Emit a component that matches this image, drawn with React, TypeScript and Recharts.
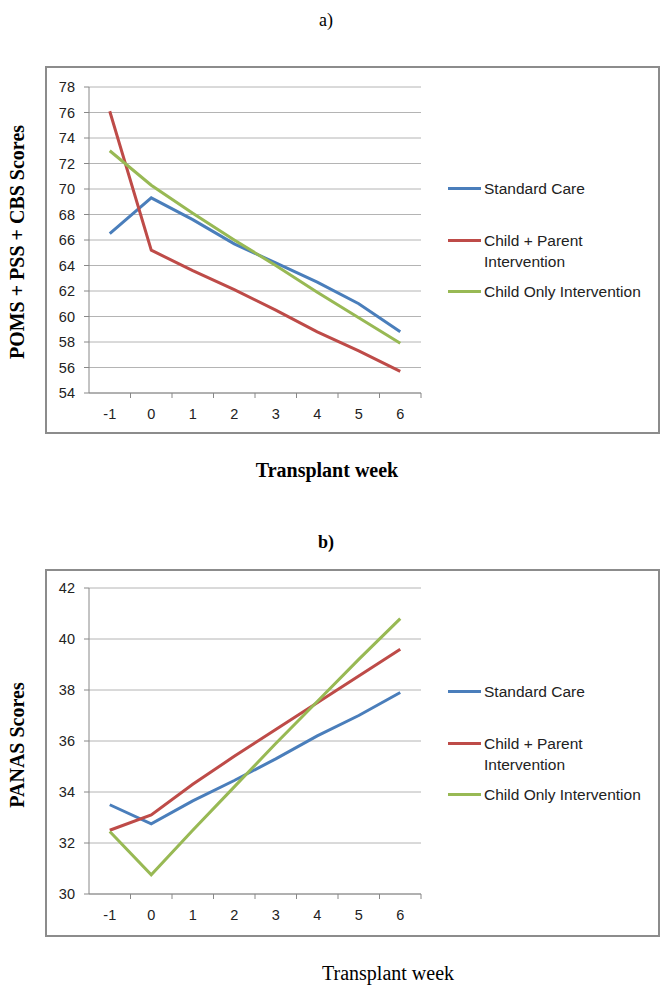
import React from "react";
import { LineChart, Line, XAxis, YAxis, CartesianGrid } from "recharts";

// transplant weeks (categories)
const weeks = ["-1", "0", "1", "2", "3", "4", "5", "6"];

// a) POMS + PSS + CBS scores
const standardCareA = [66.5, 69.3, 67.6, 65.7, 64.2, 62.7, 61.0, 58.8];
const childParentA = [76.1, 65.2, 63.6, 62.1, 60.5, 58.8, 57.3, 55.7];
const childOnlyA = [73.0, 70.3, 68.1, 66.0, 64.0, 61.9, 59.9, 57.9];
const ticksA = [54, 56, 58, 60, 62, 64, 66, 68, 70, 72, 74, 76, 78];

// b) PANAS scores
const standardCareB = [33.5, 32.75, 33.65, 34.45, 35.3, 36.2, 37.0, 37.9];
const childParentB = [32.5, 33.1, 34.3, 35.4, 36.45, 37.5, 38.55, 39.6];
const childOnlyB = [32.45, 30.75, 32.5, 34.2, 35.9, 37.55, 39.2, 40.8];
const ticksB = [30, 32, 34, 36, 38, 40, 42];

const seriesNames = ["Standard Care", "Child + Parent Intervention", "Child Only Intervention"];
const seriesColors = ["#4a7ebb", "#be4b48", "#98b954"];

const tickFont = "'Liberation Sans', Arial, sans-serif";
const serif = "'Liberation Serif', 'Times New Roman', serif";

const buildRows = (s1: number[], s2: number[], s3: number[]) =>
  weeks.map((w, i) => ({ week: w, s0: s1[i], s1: s2[i], s2: s3[i] }));

const dataA = buildRows(standardCareA, childParentA, childOnlyA);
const dataB = buildRows(standardCareB, childParentB, childOnlyB);

// Excel-style category ticks: label centred, tick marks on the band boundaries
const WeekTick = (props: any) => {
  const { x, y, payload, index, visibleTicksCount } = props;
  const off = payload.offset || 0;
  const last = index === visibleTicksCount - 1;
  return (
    <g>
      {index > 0 && <line x1={x - off} x2={x - off} y1={y} y2={y + 5} stroke="#888" />}
      {last && <line x1={x + off} x2={x + off} y1={y} y2={y + 5} stroke="#888" />}
      <text x={x} y={y + 21} textAnchor="middle" dominantBaseline="central" fill="#222" fontSize={14.5} fontFamily={tickFont}>
        {payload.value}
      </text>
    </g>
  );
};

const Legend = () => {
  const tops = [112, 164, 215];
  return (
    <>
      {seriesNames.map((name, i) => (
        <div key={name} style={{ position: "absolute", left: 403, top: tops[i], display: "flex", alignItems: "flex-start" }}>
          <div style={{ width: 33, height: 3, background: seriesColors[i], marginTop: 9, marginRight: 3 }} />
          <div style={{ width: 172, fontFamily: tickFont, fontSize: 15.5, lineHeight: "21px", color: "#222" }}>{name}</div>
        </div>
      ))}
    </>
  );
};

interface PanelProps {
  top: number;
  data: any[];
  ticks: number[];
  marginTop: number;
  xHeight: number;
}

const Panel: React.FC<PanelProps> = ({ top, data, ticks, marginTop, xHeight }) => (
  <div style={{ position: "absolute", left: 45, top, width: 615, height: 368 }}>
    <LineChart width={615} height={368} data={data} margin={{ top: marginTop, right: 239, bottom: 0, left: 0 }}>
      <CartesianGrid vertical={false} stroke="#b4b4b4" />
      <XAxis
        dataKey="week"
        scale="band"
        height={xHeight}
        stroke="#888"
        tickLine={false}
        tickSize={0}
        tickMargin={0}
        tick={<WeekTick />}
        interval={0}
      />
      <YAxis
        width={44}
        domain={[ticks[0], ticks[ticks.length - 1]]}
        ticks={ticks}
        interval={0}
        stroke="#888"
        tickSize={5}
        tickMargin={9}
        tick={{ fill: "#222", fontSize: 14.5, fontFamily: tickFont }}
      />
      {seriesColors.map((c, i) => (
        <Line
          key={i}
          dataKey={"s" + i}
          type="linear"
          stroke={c}
          strokeWidth={3}
          dot={false}
          isAnimationActive={false}
        />
      ))}
    </LineChart>
    <Legend />
    <div style={{ position: "absolute", inset: 0, border: "2px solid #8c8c8c", pointerEvents: "none" }} />
  </div>
);

const Text = ({ x, y, children, size = 20, bold = false, rotate = false }: any) => (
  <div
    style={{
      position: "absolute",
      left: x,
      top: y,
      transform: `translate(-50%, -50%)${rotate ? " rotate(-90deg)" : ""}`,
      whiteSpace: "nowrap",
      fontFamily: serif,
      fontSize: size,
      fontWeight: bold ? "bold" : "normal",
      color: "#000",
    }}
  >
    {children}
  </div>
);

export default function App() {
  return (
    <div style={{ position: "absolute", left: 0, top: 0, width: 667, height: 993, background: "#fff" }}>
      <Text x={326} y={20} size={18}>a)</Text>
      <Panel top={66} data={dataA} ticks={ticksA} marginTop={21} xHeight={41} />
      <Text x={17} y={242} bold rotate>POMS + PSS + CBS Scores</Text>
      <Text x={327} y={470} bold>Transplant week</Text>

      <Text x={326} y={542} size={18} bold>b)</Text>
      <Panel top={569} data={dataB} ticks={ticksB} marginTop={19} xHeight={43} />
      <Text x={17} y={745} bold rotate>PANAS Scores</Text>
      <Text x={388} y={973}>Transplant week</Text>
    </div>
  );
}
